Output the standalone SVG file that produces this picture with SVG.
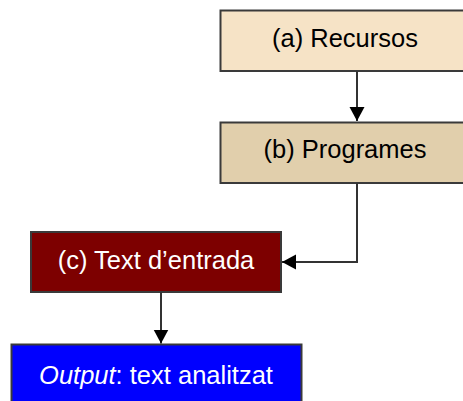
<svg xmlns="http://www.w3.org/2000/svg" width="463" height="401" viewBox="0 0 463 401">
  <style>
    .box { stroke: #3a3a3a; stroke-width: 2; }
    .lbl { font-family: "Liberation Sans", Arial, sans-serif; font-size: 25.5px; text-anchor: middle; }
    .edge { fill: none; stroke: #333333; stroke-width: 2; }
  </style>
  <defs>
    <marker id="arrow" markerUnits="userSpaceOnUse" markerWidth="16" markerHeight="16" refX="14" refY="7.5" orient="auto">
      <path d="M0,0 L14,7.5 L0,15 Z" fill="#000000"/>
    </marker>
  </defs>
  <rect width="463" height="401" fill="#ffffff"/>

  <g id="node-a">
    <rect class="box" x="220.5" y="10.5" width="252" height="60.5" fill="#f6e3c6"/>
    <text class="lbl" x="345" y="46.5" fill="#000000">(a) Recursos</text>
  </g>

  <g id="node-b">
    <rect class="box" x="220.5" y="122.5" width="252" height="60.5" fill="#e1cfac"/>
    <text class="lbl" x="345" y="158" fill="#000000">(b) Programes</text>
  </g>

  <g id="node-c">
    <rect class="box" x="31" y="232" width="250" height="60" fill="#7d0000"/>
    <text class="lbl" x="156" y="269" fill="#ffffff">(c) Text d’entrada</text>
  </g>

  <g id="node-output">
    <rect class="box" x="11.5" y="344.5" width="290" height="70" fill="#0000ff"/>
    <text class="lbl" x="156" y="384" fill="#ffffff"><tspan font-style="italic">Output</tspan>: text analitzat</text>
  </g>

  <g id="connectors">
    <path class="edge" d="M357,71 L357,121" marker-end="url(#arrow)"/>
    <path class="edge" d="M357,183 L357,262 L282,262" marker-end="url(#arrow)"/>
    <path class="edge" d="M161,292 L161,343.5" marker-end="url(#arrow)"/>
  </g>
</svg>
